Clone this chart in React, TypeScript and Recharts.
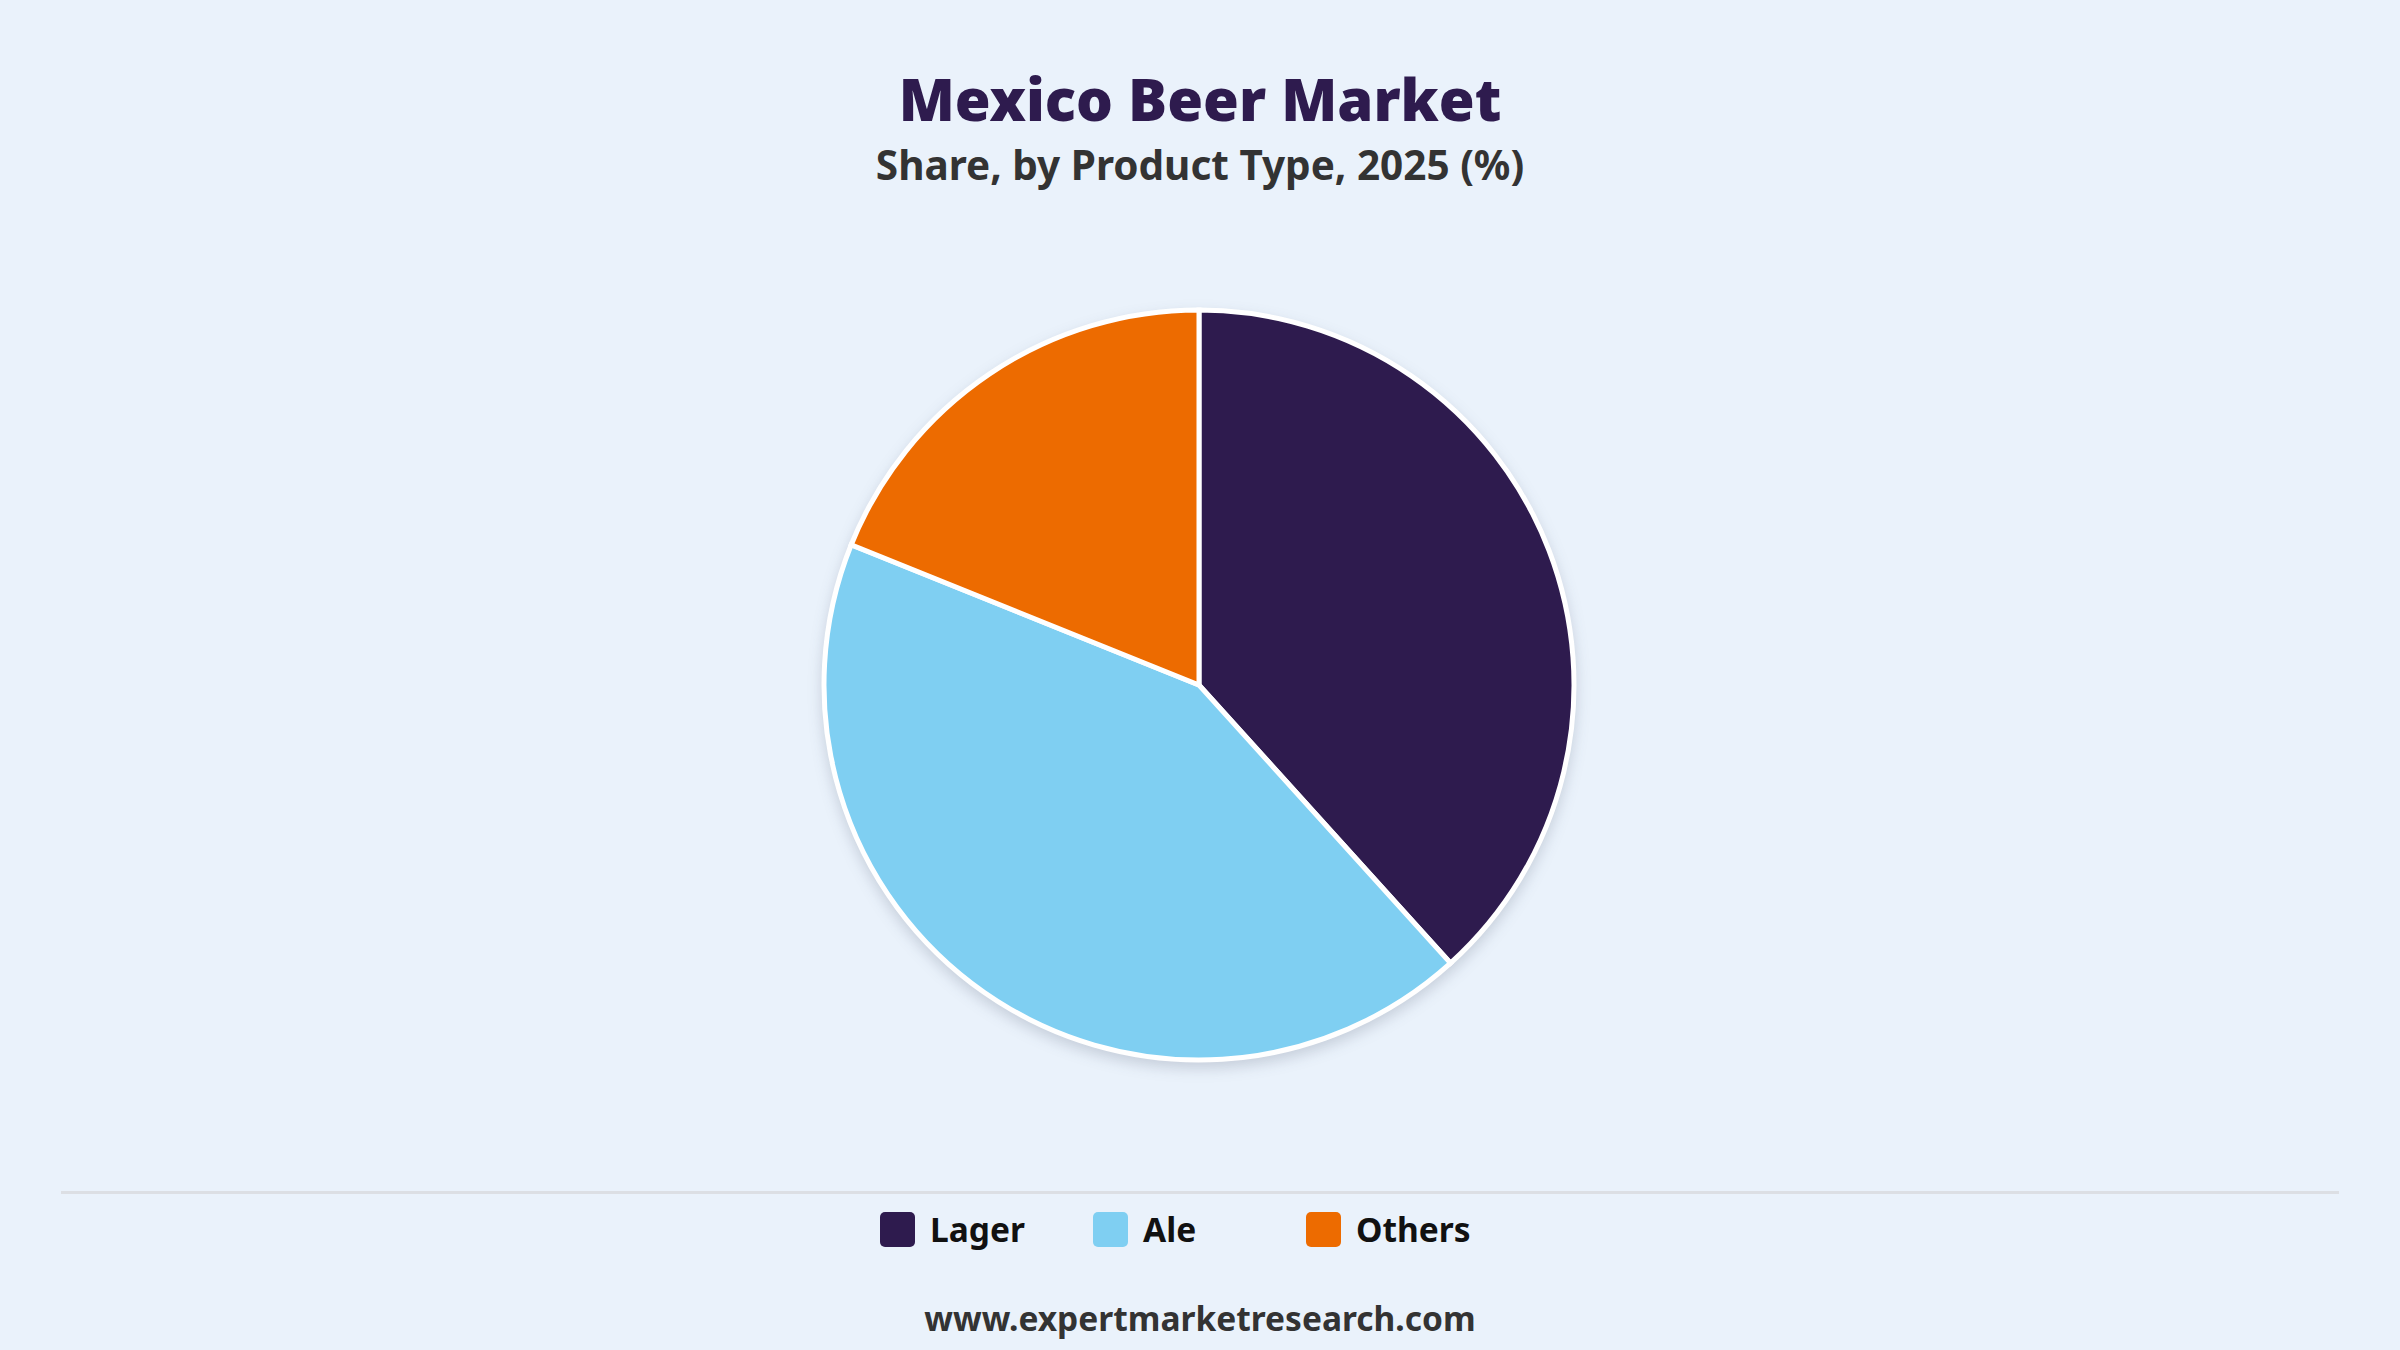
import React from "react";
import { PieChart, Pie, Cell } from "recharts";

const categories = ["Lager", "Ale", "Others"];
const shares = [38.3, 42.8, 18.9];
const colors = ["#2E1B4E", "#7FCFF2", "#ED6B00"];

const data = categories.map((name, i) => ({ name, value: shares[i] }));

const font = "'Noto Sans', sans-serif";

export default function App() {
	return (
		<div style={{ position: "absolute", left: 0, top: 0, width: 2400, height: 1350, background: "#EAF2FB", fontFamily: font, overflow: "hidden" }}>
			<style>{`.recharts-pie { filter: drop-shadow(0px 6px 7px rgba(40, 50, 80, 0.18)); }`}</style>
			<div style={{ position: "absolute", top: 61, left: 0, width: 2400, textAlign: "center", fontSize: 58, fontWeight: 900, color: "#2E1B4E", lineHeight: "76px" }}>
				Mexico Beer Market
			</div>
			<div style={{ position: "absolute", top: 137, left: 0, width: 2400, textAlign: "center", fontSize: 40.5, fontWeight: 700, color: "#333333", lineHeight: "56px" }}>
				Share, by Product Type, 2025 (%)
			</div>
			<div style={{ position: "absolute", top: 0, left: 0 }}>
				<PieChart width={2400} height={1350}>
					<Pie
						data={data}
						dataKey="value"
						nameKey="name"
						cx={1194}
						cy={680}
						outerRadius={375}
						startAngle={90}
						endAngle={-270}
						stroke="#FFFFFF"
						strokeWidth={5}
						isAnimationActive={false}
					>
						{data.map((entry, index) => (
							<Cell key={`cell-${index}`} fill={colors[index]} />
						))}
					</Pie>
				</PieChart>
			</div>
			<div style={{ position: "absolute", top: 1191, left: 61, width: 2278, height: 3, background: "#DCDFE4" }} />
			<div style={{ position: "absolute", top: 1210, left: 880, display: "flex" }}>
				{categories.map((name, i) => (
					<div key={name} style={{ width: 213, display: "flex", alignItems: "center", height: 38 }}>
						<div style={{ width: 35, height: 35, borderRadius: 5, background: colors[i], marginRight: 15 }} />
						<span style={{ fontSize: 33.5, fontWeight: 700, color: "#111111" }}>{name}</span>
					</div>
				))}
			</div>
			<div style={{ position: "absolute", top: 1295, left: 0, width: 2400, textAlign: "center", fontSize: 33.5, fontWeight: 700, color: "#333333", lineHeight: "46px" }}>
				www.expertmarketresearch.com
			</div>
		</div>
	);
}
